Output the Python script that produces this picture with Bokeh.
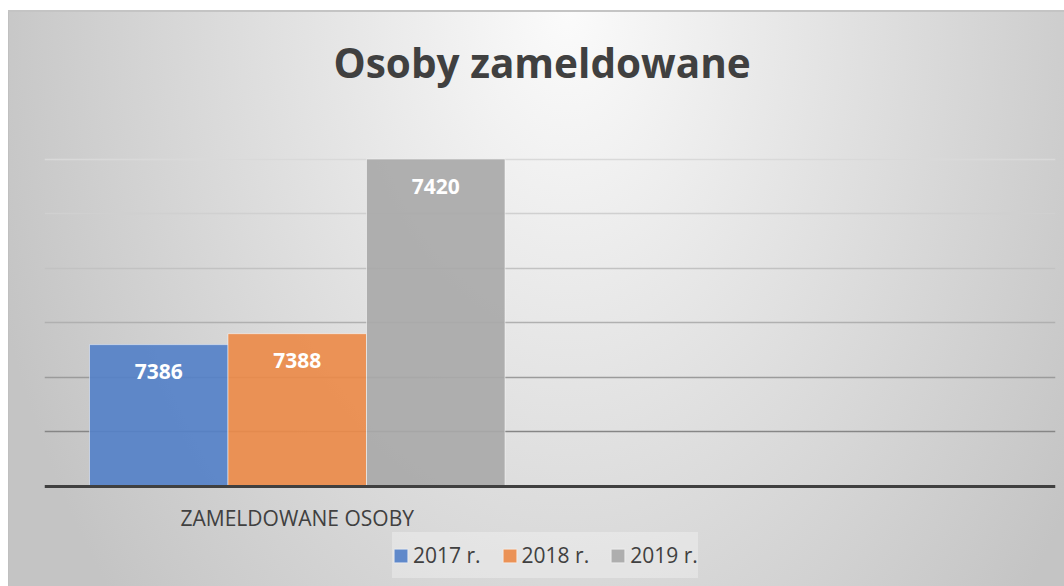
from bokeh.plotting import figure
from bokeh.models import (ColumnDataSource, FactorRange, Range1d, Grid, FixedTicker,
                          Legend, LegendItem)
from bokeh.transform import dodge
from bokeh.core.properties import value
from bokeh.embed import file_html
from bokeh.resources import INLINE

# ---- data ----
categories = ["ZAMELDOWANE OSOBY", " "]
years = ["2017 r.", "2018 r.", "2019 r."]
values = [7386, 7388, 7420]
colors = ["#5581C8", "#EC8B4A", "#A9A9A9"]
y_min, y_max = 7360, 7430
grid_ticks = [7370, 7380, 7390, 7400, 7410, 7420, 7430]
grid_colors = ["#868686", "#9b9b9b", "#b0b0b0", "#c2c2c2", "#d0d0d0", "#d9d9d9", "#e0e0e0"]
offsets = [-0.274, 0.0, 0.274]

FONT = "Open Sans"

# layout (pixels)
W, H = 1064, 586
FRAME_TOP, AXIS_Y = 104, 486
below_px = H - AXIS_Y
view_start = y_min - below_px / (AXIS_Y - FRAME_TOP) * (y_max - y_min)

src = {"cat": [categories[0]]}
for i, yr in enumerate(years):
    src[f"v{i}"] = [values[i]]
    src[f"t{i}"] = [str(values[i])]
    src[f"b{i}"] = [y_min]
source = ColumnDataSource(src)

p = figure(width=W, height=H,
           x_range=FactorRange(factors=categories, range_padding=0),
           y_range=Range1d(view_start, y_max),
           output_backend="svg", toolbar_location=None,
           min_border_left=44, min_border_right=9,
           min_border_top=FRAME_TOP, min_border_bottom=0,
           title="Osoby zameldowane")

p.title.align = "left"
p.title.offset = 289
p.title.text_font = FONT
p.title.text_font_size = "40.5px"
p.title.text_font_style = "bold"
p.title.text_color = "#404040"
p.title.standoff = 30

p.background_fill_alpha = 0
p.border_fill_alpha = 0
p.outline_line_color = None
p.styles = {
    "background": (
        "linear-gradient(#c4c4c4, #c4c4c4) 8px 10px / 1056px 2px no-repeat, "
        "linear-gradient(#c0c0c0, #c0c0c0) 8px 10px / 1px 576px no-repeat, "
        "radial-gradient(ellipse 600px 900px at 53% 0%, #fbfbfb 0%, #c4c4c4 100%) "
        "8px 10px / 1056px 576px no-repeat, #ffffff"
    ),
}

p.xgrid.grid_line_color = None
p.ygrid.grid_line_color = None
for t, c in zip(grid_ticks, grid_colors):
    p.add_layout(Grid(dimension=1, ticker=FixedTicker(ticks=[t]),
                      grid_line_color=c, grid_line_width=1.5))

p.yaxis.visible = False
ax = p.xaxis[0]
ax.fixed_location = y_min
ax.axis_line_color = "#404040"
ax.axis_line_width = 3
ax.major_tick_line_color = None
ax.minor_tick_line_color = None
ax.major_label_text_font = FONT
ax.major_label_text_font_size = "21px"
ax.major_label_text_color = "#404040"
ax.major_label_standoff = 11

items = []
for i, yr in enumerate(years):
    r = p.vbar(x=dodge("cat", offsets[i], range=p.x_range), top=f"v{i}", bottom=f"b{i}",
               width=0.274, source=source, fill_color=colors[i], fill_alpha=0.92,
               line_color="white", line_alpha=0.5, line_width=1)
    items.append(LegendItem(label=yr, renderers=[r]))
    p.text(x=dodge("cat", offsets[i], range=p.x_range), y=f"v{i}", text=f"t{i}",
           source=source, y_offset=27, text_align="center", text_baseline="middle",
           text_color="white", text_font=value(FONT), text_font_style="bold",
           text_font_size="21px")

legend = Legend(items=items, location=(348, 8), orientation="horizontal",
                glyph_width=17, glyph_height=17, label_standoff=4, spacing=20,
                padding=0, margin=0, label_height=46,
                label_text_font=FONT, label_text_font_size="21px",
                label_text_color="#404040", background_fill_color="white",
                background_fill_alpha=0.3, border_line_color=None)
p.add_layout(legend)

open("out.html", "w").write(file_html(p, INLINE))
